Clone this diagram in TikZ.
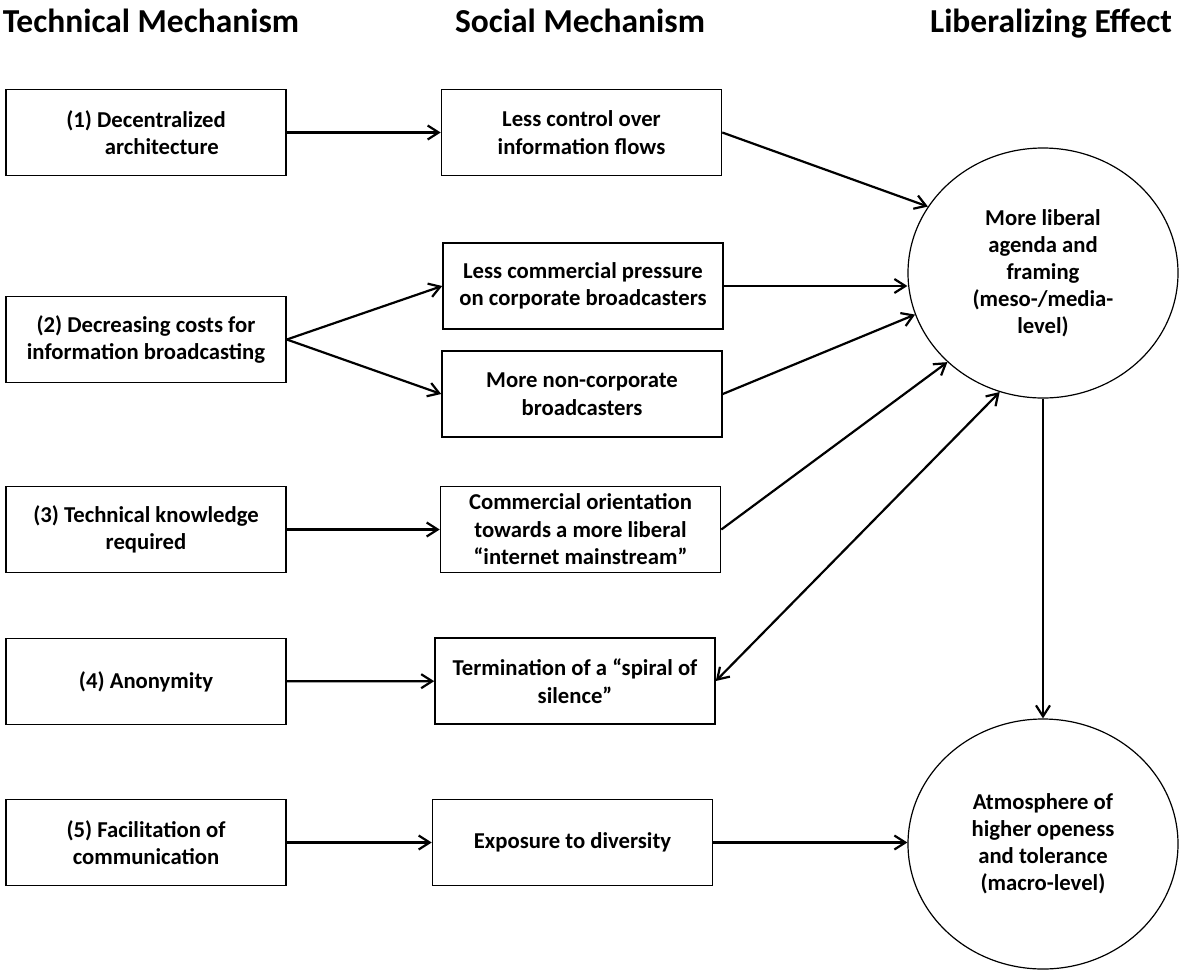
\documentclass[tikz,border=0pt]{standalone}
\usepackage{fontspec}
\setmainfont{Carlito}
\usetikzlibrary{shapes.geometric,arrows.meta}

\begin{document}
\begin{tikzpicture}[x=1pt,y=-1pt,
  box/.style={draw,line width=1.6pt,rectangle,minimum width=280pt,minimum height=86pt,
    align=center,inner sep=2pt,font=\bfseries\fontsize{22.7}{27.5}\selectfont},
  effect/.style={draw,line width=1.2pt,ellipse,minimum width=270pt,minimum height=250pt,
    align=center,inner sep=0pt,font=\bfseries\fontsize{22.7}{27}\selectfont},
  head/.style={anchor=base,font=\bfseries\fontsize{33.5}{40}\selectfont},
  link/.style={line width=2.2pt,-{Straight Barb[length=11pt,width=14pt]}}]
\useasboundingbox (0,0) rectangle (1179,970);

\node[head] (H1) at (151,32) {Technical Mechanism};
\node[head] (H2) at (580,32) {Social Mechanism};
\node[head] (H3) at (1051,32) {Liberalizing Effect};

\node[box] (T1) at (146,132.5) {(1) Decentralized\\\hspace*{1.4em}architecture};
\node[box] (T2) at (146,339.5) {(2) Decreasing costs for\\information broadcasting};
\node[box] (T3) at (146,529.5) {(3) Technical knowledge\\required};
\node[box] (T4) at (146,681.5) {(4) Anonymity};
\node[box] (T5) at (146,842.5) {(5) Facilitation of\\communication};

\node[box] (S1) at (581.5,132.5) {Less control over\\information flows};
\node[box] (S2) at (583,286) {Less commercial pressure\\on corporate broadcasters};
\node[box] (S3) at (582,394) {More non-corporate\\broadcasters};
\node[box] (S4) at (580.5,529.5) {Commercial orientation\\towards a more liberal\\“internet mainstream”};
\node[box] (S5) at (575,681) {Termination of a “spiral of\\silence”};
\node[box] (S6) at (572.5,842.5) {Exposure to diversity};

\node[effect] (E1) at (1043,273) {More liberal\\agenda and\\framing\\(meso-/media-\\level)};
\node[effect] (E2) at (1043,844) {Atmosphere of\\higher openess\\and tolerance\\(macro-level)};

\draw[link] (T1) -- (S1);
\draw[link] (T2.east) -- (S2.west);
\draw[link] (T2.east) -- (S3.west);
\draw[link] (T3) -- (S4);
\draw[link] (T4) -- (S5);
\draw[link] (T5) -- (S6);

\draw[link] (S1.east) -- (E1.150);
\draw[link] (S2.east) -- (S2.east -| E1.west);
\draw[link] (S3.east) -- (E1.198);
\draw[link] (S4.east) -- (E1.223);
\draw[link,{Straight Barb[length=11pt,width=14pt]}-{Straight Barb[length=11pt,width=14pt]}] (S5.east) -- (E1.250);
\draw[link] (S6.east) -- (S6.east -| E2.west);
\draw[link] (E1.south) -- (E2.north);
\end{tikzpicture}
\end{document}
